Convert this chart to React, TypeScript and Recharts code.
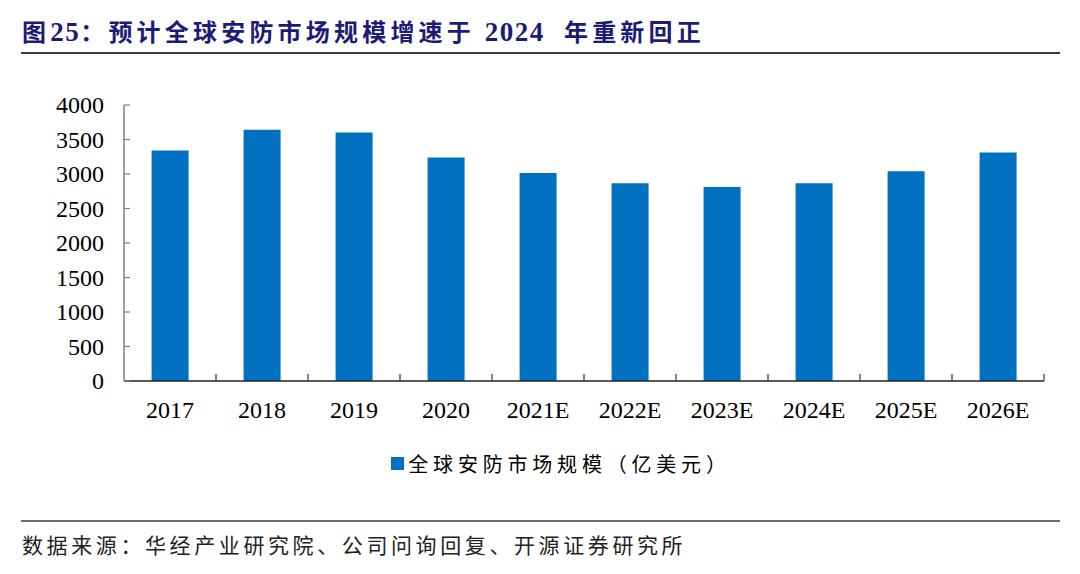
import React from 'react';
import { BarChart, Bar, XAxis, YAxis, Legend } from 'recharts';

const categories = ['2017', '2018', '2019', '2020', '2021E', '2022E', '2023E', '2024E', '2025E', '2026E'];
const marketSize = [3340, 3640, 3600, 3240, 3015, 2865, 2810, 2865, 3040, 3310];
const yTicks = [0, 500, 1000, 1500, 2000, 2500, 3000, 3500, 4000];
const seriesName = '全球安防市场规模（亿美元）';
const titleParts = [
  { t: '图', cjk: true },
  { t: '25', cjk: false },
  { t: '：预计全球安防市场规模增速于 ', cjk: true },
  { t: '2024', cjk: false },
  { t: '  年重新回正', cjk: true },
];
const sourceText = '数据来源：华经产业研究院、公司问询回复、开源证券研究所';

const data = categories.map((c, i) => ({ name: c, value: marketSize[i] }));

const SERIF = '"Liberation Serif", "Times New Roman", serif';
const CJK = '"Noto Sans CJK SC", sans-serif';
const BAR_COLOR = '#0070C0';
const TICK_MARGIN = 20;

const YTick = (props: any) => {
  const { x, y, payload } = props;
  const axisX = x + TICK_MARGIN;
  return (
    <g>
      <line x1={axisX} x2={axisX + 6} y1={y} y2={y} stroke="#7f7f7f" strokeWidth={1.2} />
      <text x={x} y={y} dy={8} textAnchor="end" fontFamily={SERIF} fontSize={24} fill="#000">
        {payload.value}
      </text>
    </g>
  );
};

const XTick = (props: any) => {
  const { x, y, payload, index, visibleTicksCount } = props;
  const off = payload && payload.offset ? payload.offset : 46;
  const axisY = y - TICK_MARGIN;
  const isLast = index === (visibleTicksCount ?? categories.length) - 1;
  return (
    <g>
      {index > 0 && (
        <line x1={x - off} x2={x - off} y1={axisY} y2={axisY - 7} stroke="#333" strokeWidth={1.2} />
      )}
      {isLast && (
        <line x1={x + off} x2={x + off} y1={axisY} y2={axisY - 7} stroke="#333" strokeWidth={1.2} />
      )}
      <text x={x} y={axisY} dy={37} textAnchor="middle" fontFamily={SERIF} fontSize={24} fill="#000">
        {payload.value}
      </text>
    </g>
  );
};

const LegendContent = (props: any) => {
  const { payload } = props;
  return (
    <div style={{ display: 'flex', justifyContent: 'center', alignItems: 'center', paddingLeft: 42 }}>
      {(payload || []).map((p: any) => (
        <div key={p.value} style={{ display: 'flex', alignItems: 'center' }}>
          <span style={{ display: 'inline-block', width: 13, height: 13, background: p.color, marginRight: 4 }} />
          <span style={{ fontFamily: CJK, fontSize: 20, letterSpacing: 4.8, color: '#000' }}>{p.value}</span>
        </div>
      ))}
    </div>
  );
};

export default function App() {
  return (
    <div style={{ position: 'absolute', left: 0, top: 0, width: 1080, height: 574, background: '#fff', overflow: 'hidden' }}>
      <div
        style={{
          position: 'absolute',
          left: 22,
          top: 15,
          whiteSpace: 'pre',
          fontSize: 25,
          fontWeight: 'bold',
          color: '#1c1c78',
          lineHeight: '32px',
        }}
      >
        {titleParts.map((p, i) => (
          <span
            key={i}
            style={{ fontFamily: p.cjk ? CJK : SERIF, letterSpacing: p.cjk ? 4.2 : 1.5, fontSize: p.cjk ? 24 : 27 }}
          >
            {p.t}
          </span>
        ))}
      </div>
      <div style={{ position: 'absolute', left: 21, top: 52, width: 1039, height: 2, background: '#3a3a3a' }} />

      <div style={{ position: 'absolute', left: 0, top: 0 }}>
        <BarChart
          width={1080}
          height={500}
          data={data}
          margin={{ top: 105, right: 36, left: 64, bottom: 79 }}
          barCategoryGap="30%"
        >
          <XAxis
            dataKey="name"
            height={40}
            axisLine={{ stroke: '#222', strokeWidth: 1.5 }}
            tickLine={false}
            tickSize={0}
            tickMargin={TICK_MARGIN}
            tick={<XTick />}
            interval={0}
          />
          <YAxis
            width={60}
            domain={[0, 4000]}
            ticks={yTicks}
            axisLine={{ stroke: '#7f7f7f', strokeWidth: 1.5 }}
            tickLine={false}
            tickSize={0}
            tickMargin={TICK_MARGIN}
            tick={<YTick />}
            interval={0}
          />
          <Legend
            layout="horizontal"
            verticalAlign="middle"
            align="center"
            wrapperStyle={{ top: 449, left: 0, width: 1080 }}
            content={<LegendContent />}
          />
          <Bar dataKey="value" name={seriesName} fill={BAR_COLOR} isAnimationActive={false} />
        </BarChart>
      </div>

      <div style={{ position: 'absolute', left: 21, top: 520, width: 1039, height: 2, background: '#6f6f6f' }} />
      <div
        style={{
          position: 'absolute',
          left: 22,
          top: 530,
          whiteSpace: 'pre',
          fontFamily: CJK,
          fontSize: 21,
          letterSpacing: 3.6,
          color: '#222',
          lineHeight: '28px',
        }}
      >
        {sourceText}
      </div>
    </div>
  );
}
